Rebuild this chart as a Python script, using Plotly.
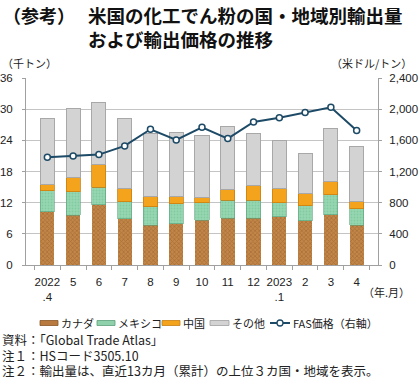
import plotly.graph_objects as go

months = ["2022<br>.4", "5", "6", "7", "8", "9", "10", "11", "12", "2023<br>.1", "2", "3", "4"]
canada = [10.3, 9.6, 11.6, 8.9, 7.7, 7.9, 8.6, 9.0, 9.0, 9.3, 8.5, 9.7, 7.7]
mexico = [4.0, 4.5, 3.4, 3.3, 3.5, 3.9, 3.4, 3.5, 3.5, 2.7, 2.95, 3.8, 3.1]
china = [1.2, 2.7, 4.4, 2.5, 2.0, 1.4, 0.9, 2.0, 2.8, 2.7, 2.35, 2.6, 1.4]
other = [12.8, 13.4, 11.9, 13.5, 12.1, 12.3, 12.1, 12.1, 10.0, 9.25, 7.7, 10.1, 10.7]
price = [1383, 1400, 1417, 1528, 1742, 1605, 1767, 1622, 1836, 1891, 1956, 2024, 1725]
series_names = ["カナダ", "メキシコ", "中国", "その他", "FAS価格（右軸）"]

FONT = "Liberation Sans, Arial, Noto Sans CJK JP, sans-serif"
JFONT = "Noto Sans CJK JP, Liberation Sans, sans-serif"

C_CAN, C_MEX, C_CHN, C_OTH, C_LINE = "#b87a3e", "#8ed1aa", "#f4a41c", "#d3d3d3", "#1d4a66"

fig = go.Figure()
fig.add_trace(go.Bar(x=months, y=canada, name=series_names[0],
                     marker=dict(color=C_CAN, line=dict(width=0),
                                 pattern=dict(shape="x", size=3, fgcolor="#8a5526", bgcolor="#c28648", solidity=0.4))))
fig.add_trace(go.Bar(x=months, y=mexico, name=series_names[1],
                     marker=dict(color=C_MEX, line=dict(width=0.6, color="#5a9e78"),
                                 pattern=dict(shape=".", size=3, fgcolor="#6cbf92", bgcolor="#96d6b1", solidity=0.3))))
fig.add_trace(go.Bar(x=months, y=china, name=series_names[2],
                     marker=dict(color=C_CHN, line=dict(width=0.8, color="#c87f10"))))
fig.add_trace(go.Bar(x=months, y=other, name=series_names[3],
                     marker=dict(color=C_OTH, line=dict(width=1, color="#a8a8a8"))))
fig.add_trace(go.Scatter(x=months, y=price, name=series_names[4], yaxis="y2", mode="lines+markers",
                         line=dict(color=C_LINE, width=2),
                         marker=dict(symbol="circle", size=6, color="white",
                                     line=dict(color=C_LINE, width=1.5))))

fig.update_layout(
    width=420, height=381,
    margin=dict(l=26, r=42, t=78, b=116, autoexpand=False),
    paper_bgcolor="white", plot_bgcolor="white",
    barmode="stack", bargap=0.45,
    font=dict(family=FONT, size=11, color="#222"),
    showlegend=False,
    xaxis=dict(type="category", tickson="boundaries", ticks="outside", ticklen=4,
               tickcolor="#a0a0a0", showline=True, linecolor="#a0a0a0", linewidth=1,
               showgrid=False, tickfont=dict(size=11.5, family=FONT), tickangle=0,
               ticklabelstandoff=6, automargin=False),
    yaxis=dict(range=[0, 36], dtick=6, showgrid=True, gridcolor="#c4c4c4", gridwidth=1,
               showline=True, linecolor="#a0a0a0", ticks="outside", ticklen=3,
               tickcolor="#a0a0a0", tickfont=dict(size=11.5), zeroline=False,
               ticklabelstandoff=7, automargin=False),
    yaxis2=dict(range=[0, 2400], dtick=400, tickformat=",", overlaying="y", side="right",
                showgrid=False, showline=True, linecolor="#a0a0a0", ticks="outside",
                ticklen=3, tickcolor="#a0a0a0", tickfont=dict(size=11.5), zeroline=False,
                ticklabelstandoff=5, automargin=False),
)

def px_x(p):
    return (p - 26) / 352.0

def px_y(p):
    return (265 - p) / 187.0

anns = [
    dict(text="<b>（参考）</b>", x=px_x(1), y=px_y(15), xanchor="left", yanchor="middle",
         font=dict(family=JFONT, size=18, color="#111")),
    dict(text="<b>米国の化工でん粉の国・地域別輸出量</b>", x=px_x(86), y=px_y(15), xanchor="left", yanchor="middle",
         font=dict(family=JFONT, size=18.5, color="#111")),
    dict(text="<b>および輸出価格の推移</b>", x=px_x(86), y=px_y(39), xanchor="left", yanchor="middle",
         font=dict(family=JFONT, size=18.5, color="#111")),
    dict(text="（千トン）", x=px_x(0), y=px_y(63), xanchor="left", yanchor="middle",
         font=dict(family=JFONT, size=11)),
    dict(text="（米ドル/トン）", x=px_x(414), y=px_y(63), xanchor="right", yanchor="middle",
         font=dict(family=JFONT, size=11)),
    dict(text="（年.月）", x=px_x(412), y=px_y(292), xanchor="right", yanchor="middle",
         font=dict(family=JFONT, size=11)),
    dict(text="資料：「Global Trade Atlas」", x=px_x(0), y=px_y(339), xanchor="left", yanchor="middle",
         font=dict(family=JFONT, size=12.5), height=14),
    dict(text="注１：HSコード3505.10", x=px_x(0), y=px_y(354.5), xanchor="left", yanchor="middle",
         font=dict(family=JFONT, size=12.5), height=14),
    dict(text="注２：輸出量は、直近13カ月（累計）の上位３カ国・地域を表示。", x=px_x(0), y=px_y(370),
         xanchor="left", yanchor="middle", font=dict(family=JFONT, size=12.5), height=14),
]

# legend (drawn as swatches + text so that it fits on one row like the reference)
leg_y = 323
swatches = [(40, 58, C_CAN, "#8a5526"), (97, 115, C_MEX, "#5a9e78"),
            (162, 180, C_CHN, "#c87f10"), (210, 229, C_OTH, "#a0a0a0")]
shapes = []
for (x0, x1, fc, lc), name in zip(swatches, series_names[:4]):
    shapes.append(dict(type="rect", xref="paper", yref="paper",
                       x0=px_x(x0), x1=px_x(x1), y0=px_y(leg_y - 2.5), y1=px_y(leg_y + 2.5),
                       fillcolor=fc, line=dict(color=lc, width=0.8)))
    anns.append(dict(text=name, x=px_x(x1 + 1), y=px_y(leg_y), xanchor="left", yanchor="middle",
                     font=dict(family=JFONT, size=11)))
shapes.append(dict(type="line", xref="paper", yref="paper", x0=px_x(270), x1=px_x(290),
                   y0=px_y(leg_y), y1=px_y(leg_y), line=dict(color=C_LINE, width=2)))
shapes.append(dict(type="circle", xref="paper", yref="paper", x0=px_x(277), x1=px_x(283),
                   y0=px_y(leg_y - 3), y1=px_y(leg_y + 3), fillcolor="white",
                   line=dict(color=C_LINE, width=1.3)))
anns.append(dict(text=series_names[4], x=px_x(291), y=px_y(leg_y), xanchor="left", yanchor="middle",
                 font=dict(family=JFONT, size=11)))

for a in anns:
    a.update(xref="paper", yref="paper", showarrow=False)
fig.update_layout(annotations=anns, shapes=shapes)

fig.write_html("out.html", config={"displayModeBar": False},
               post_script="document.body.style.margin='0';document.body.style.padding='0';")
